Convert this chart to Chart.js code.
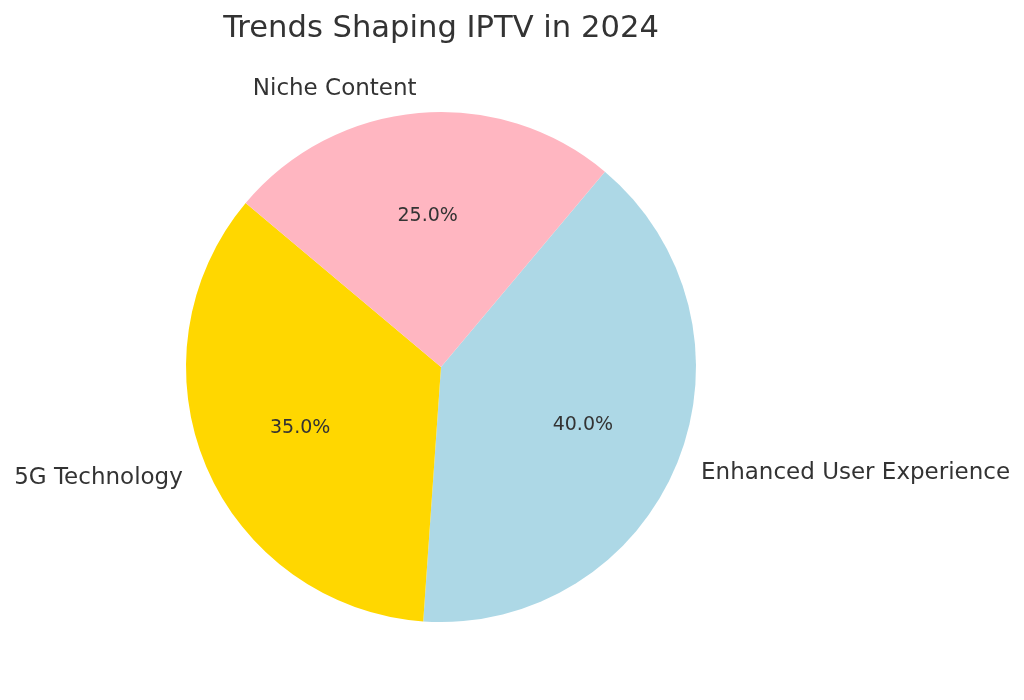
<!DOCTYPE html>
<html>
<head>
<meta charset="utf-8">
<title>Trends Shaping IPTV in 2024</title>
<script src="https://cdn.jsdelivr.net/npm/chart.js@4/dist/chart.umd.min.js"></script>
<style>
  html, body { margin: 0; padding: 0; background: #fff; }
  #wrap { width: 1024px; height: 700px; }
</style>
</head>
<body>
<div id="wrap"><canvas id="pie-chart"></canvas></div>
<script>
// data
const trends = ['Enhanced User Experience', '5G Technology', 'Niche Content'];
const shares = [40, 35, 25];
const sliceColors = ['#ADD8E6', '#FFD700', '#FFB6C1'];

const FONT = "'DejaVu Sans', sans-serif";
const TEXT = '#333333';

// draws the outer labels and the percentages like matplotlib does
const pieLabels = {
    id: 'pieLabels',
    afterDatasetsDraw(chart) {
        const ctx = chart.ctx;
        const meta = chart.getDatasetMeta(0);
        const total = shares.reduce((a, b) => a + b, 0);
        ctx.save();
        ctx.fillStyle = TEXT;
        ctx.textBaseline = 'middle';
        meta.data.forEach((arc, i) => {
            const p = arc.getProps(['x', 'y', 'startAngle', 'endAngle', 'outerRadius'], true);
            const mid = (p.startAngle + p.endAngle) / 2;
            const c = Math.cos(mid), s = Math.sin(mid);
            // category label at 1.1 r
            ctx.font = '23px ' + FONT;
            ctx.textAlign = c > 0 ? 'left' : 'right';
            ctx.fillText(trends[i], p.x + c * p.outerRadius * 1.1, p.y + s * p.outerRadius * 1.1 + 1);
            // percentage at 0.6 r
            ctx.font = '19px ' + FONT;
            ctx.textAlign = 'center';
            const pct = (shares[i] / total * 100).toFixed(1) + '%';
            ctx.fillText(pct, p.x + c * p.outerRadius * 0.6, p.y + s * p.outerRadius * 0.6 + 1);
        });
        ctx.restore();
    }
};

let ctx = document.getElementById('pie-chart').getContext('2d');
new Chart(ctx, {
    type: 'pie',
    data: {
        labels: trends,
        datasets: [{
            data: shares,
            backgroundColor: sliceColors,
            borderWidth: 0
        }]
    },
    options: {
        responsive: true,
        maintainAspectRatio: false,
        animation: false,
        rotation: 40,
        layout: {
            padding: { left: 186, right: 328, top: 0, bottom: 78 }
        },
        plugins: {
            legend: { display: false },
            tooltip: { enabled: false },
            title: {
                display: true,
                text: 'Trends Shaping IPTV in 2024',
                color: TEXT,
                font: { family: FONT, size: 30.6, weight: 'normal' },
                padding: { top: 10.5, bottom: 64.8 }
            }
        }
    },
    plugins: [pieLabels]
});
</script>
</body>
</html>
